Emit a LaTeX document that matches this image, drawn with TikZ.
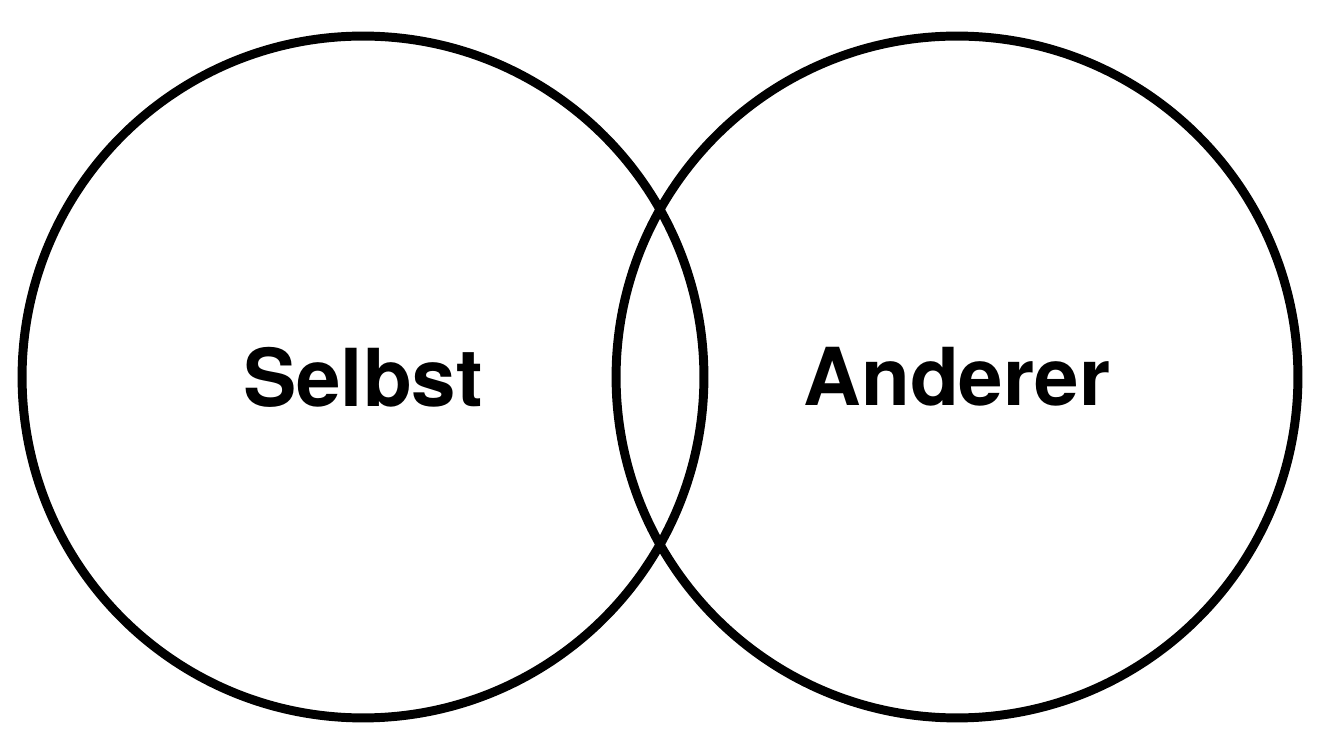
\documentclass[tikz,border=0pt]{standalone}
\usepackage{fontspec}
\setmainfont{TeX Gyre Heros}
\usetikzlibrary{positioning}

\tikzset{
  venn/.style = {circle, draw=black, line width=5.1pt, minimum size=13.64cm,
                 inner sep=0pt, font=\fontsize{45.5}{48}\selectfont\bfseries}
}

\begin{document}
\begin{tikzpicture}[x=0.02cm,y=0.02cm]
          \useasboundingbox (0,0) rectangle (1328,747);
          % the two sets
          \node[venn] (selbst) at (363,370) {Selbst};
          \node[venn] (anderer) at (957,370) {Anderer};
        \end{tikzpicture}
\end{document}
